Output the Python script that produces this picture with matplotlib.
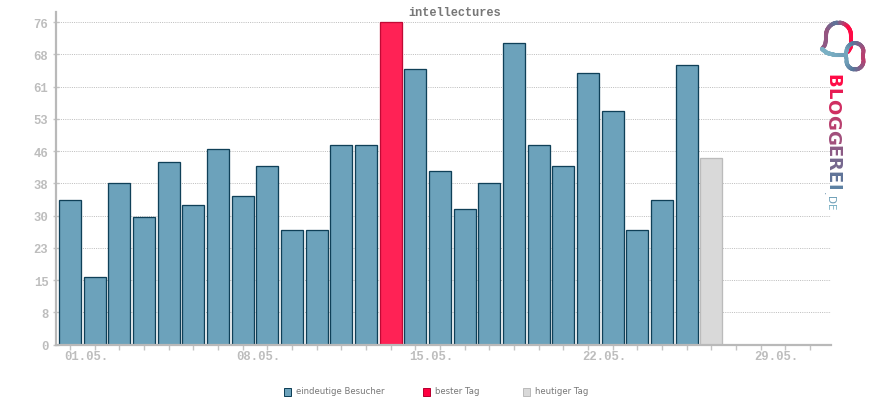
import numpy as np
import matplotlib
matplotlib.use("Agg")
import matplotlib.pyplot as plt
from matplotlib.collections import LineCollection
from matplotlib.colors import LinearSegmentedColormap
from matplotlib.patches import Rectangle
from matplotlib.ticker import FixedLocator, NullFormatter

TITLE = "intellectures"
days = list(range(1, 28))
visitors = [34, 16, 38, 30, 43, 33, 46, 35, 42, 27, 27, 47, 47, 76, 65, 41, 32, 38, 71, 47, 42, 64, 55, 27, 34, 66, 44]
best_day = 14
today = 27
y_ticks = [0, 7.6, 15.2, 22.8, 30.4, 38, 45.6, 53.2, 60.8, 68.4, 76]
y_labels = ["0", "8", "15", "23", "30", "38", "46", "53", "61", "68", "76"]
all_days = list(range(1, 32))
x_label_days = [1, 8, 15, 22, 29]
x_labels = ["01.05.", "08.05.", "15.05.", "22.05.", "29.05."]
legend_labels = ["eindeutige Besucher", "bester Tag", "heutiger Tag"]

W, H = 870, 400
BLUE, BLUE_E = "#6ca2bb", "#0f4058"
RED, RED_E = "#ff2255", "#c00a35"
GREY, GREY_E = "#d9d9d9", "#bbbbbb"
AXC = "#b9b9b9"
px = 0.72

fig = plt.figure(figsize=(W / 100, H / 100), dpi=100, facecolor="white")
L, R, T, B = 56, 831, 12, 344.6
ax = fig.add_axes([L / W, 1 - B / H, (R - L) / W, (B - T) / H])
dx = 24.7
ax.set_xlim(1 - 14 / dx, 31 + 21 / dx)
ax.set_ylim(0, (B - T) / 4.243)

colors, edges = [], []
for d in days:
    if d == best_day:
        colors.append(RED); edges.append(RED_E)
    elif d == today:
        colors.append(GREY); edges.append(GREY_E)
    else:
        colors.append(BLUE); edges.append(BLUE_E)
ax.bar(days, visitors, width=0.9, color=colors, edgecolor=edges, linewidth=1.3 * px, zorder=3)

ax.yaxis.set_major_locator(FixedLocator(y_ticks))
ax.yaxis.set_major_formatter(NullFormatter())
ax.xaxis.set_major_locator(FixedLocator(all_days))
ax.xaxis.set_major_formatter(NullFormatter())
ax.tick_params(axis="y", direction="inout", length=4, width=1, color="#c4c4c4")
ax.tick_params(axis="x", length=3.5, width=1, color="#c4c4c4")
ax.grid(axis="y", color="#bfbfbf", linestyle=(0, (1, 1.2)), linewidth=1 * px, zorder=1)
for s in ("top", "right"):
    ax.spines[s].set_visible(False)
for s in ("left", "bottom"):
    ax.spines[s].set_color(AXC)
    ax.spines[s].set_linewidth(2.2 * px)
    ax.spines[s].set_zorder(5)

mono = dict(family="Liberation Mono", fontsize=8.8, fontweight="bold", color="#bdbdbd")
xtrans = ax.get_xaxis_transform()
for d, lab in zip(x_label_days, x_labels):
    ax.annotate(lab, xy=(d, 0), xycoords=xtrans, xytext=(11.5, -9.2), textcoords="offset points",
                ha="center", va="center", **mono)
ytrans = ax.get_yaxis_transform()
for v, lab in zip(y_ticks, y_labels):
    ax.annotate(lab, xy=(0, v), xycoords=ytrans, xytext=(-5.4, -1.8), textcoords="offset points",
                ha="right", va="center", **mono)

fig.text(455 / W, 1 - 12.5 / H, TITLE, ha="center", va="center", family="Liberation Mono",
         fontsize=8.6, fontweight="bold", color="#777777")

# pixel-coordinate overlay for legend and logo
ov = fig.add_axes([0, 0, 1, 1], facecolor="none")
ov.set_xlim(0, W); ov.set_ylim(H, 0); ov.axis("off")

for x, lab, fc, ec in zip([284, 423, 523], legend_labels, [BLUE, "#ff0040", GREY], [BLUE_E, "#b80030", GREY_E]):
    ov.add_patch(Rectangle((x, 388), 7.5, 7.5, facecolor=fc, edgecolor=ec, linewidth=1 * px))
    ov.text(x + 12, 392, lab, ha="left", va="center", family="DejaVu Sans", fontsize=6.15, color="#777777")

# logo
cmap = LinearSegmentedColormap.from_list("logo", ["#ff0a45", "#a84a78", "#56789c", "#7ab0c4"])

def grad_path(pts, stops, lw=2.9):
    pts = np.array(pts, float)
    t = np.linspace(0, 1, len(pts))
    fine = np.linspace(0, 1, 80)
    xs = np.interp(fine, t, pts[:, 0]); ys = np.interp(fine, t, pts[:, 1])
    seg = np.stack([np.c_[xs[:-1], ys[:-1]], np.c_[xs[1:], ys[1:]]], axis=1)
    vals = np.interp(fine[:-1], np.linspace(0, 1, len(stops)), stops)
    ov.add_collection(LineCollection(seg, colors=[cmap(v) for v in vals], linewidths=lw, capstyle="round"))

def arc(cx, cy, rx, ry, a0, a1, n=14):
    a = np.radians(np.linspace(a0, a1, n))
    return list(zip(cx + rx * np.cos(a), cy + ry * np.sin(a)))

bubble = [(822, 49), (825, 45), (826, 40)] + arc(838.5, 35, 12.5, 12.5, 180, 360) + [(851, 47), (848, 52)]
grad_path(bubble, [0.45, 0.4, 0.65, 0.0, 0.0])
grad_path([(822, 49), (827, 53), (835, 55), (846, 55)], [1.0, 1.0, 0.9])
pill = arc(855, 51.5, 8.5, 8.5, 180, 360) + arc(855, 61, 8.5, 8.5, 0, 180) + [(846.5, 51.5)]
grad_path(pill, [1.0, 0.6, 0.25, 0.6, 0.95])

word = "BLOGGEREI"
y = 74.0
r = fig.canvas.get_renderer()
n = len(word)
for i, ch in enumerate(word):
    t = ov.text(832, y, ch, rotation=-90, ha="center", va="top", family="DejaVu Sans", fontsize=13,
                fontweight="bold", color=cmap(0.72 * i / (n - 1)))
    y += t.get_window_extent(r).height + 0.2
y += 1
for ch, c in zip(".DE", [0.8, 0.9, 1.0]):
    t = ov.text(830 if ch != "." else 826, y, ch, rotation=-90, ha="center", va="top", family="DejaVu Sans", fontsize=7.5,
                color=cmap(c))
    y += t.get_window_extent(r).height + 0.5

fig.savefig("out.png", dpi=100)
